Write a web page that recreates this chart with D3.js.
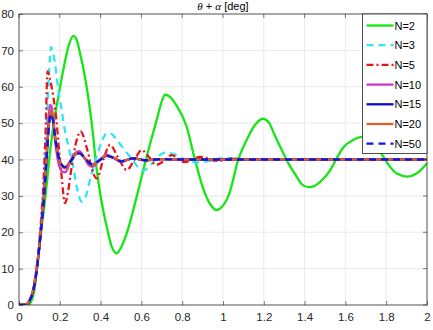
<!DOCTYPE html>
<html>
<head>
<meta charset="utf-8">
<script src="https://cdn.jsdelivr.net/npm/d3@7"></script>
<style>
  body { margin: 0; background: #fff; }
  svg { display: block; font-family: "Liberation Sans", Arial, sans-serif; }
  .grid line { stroke: #dcdcdc; stroke-width: 0.6; }
  .tick text { font-size: 11.5px; fill: #262626; }
</style>
</head>
<body>
<svg width="433" height="330"></svg>
<script>
// time [s] and angle [deg]
const seriesNames = ["N=2", "N=3", "N=5", "N=10", "N=15", "N=20", "N=50"];
const xTicks = [0, 0.2, 0.4, 0.6, 0.8, 1, 1.2, 1.4, 1.6, 1.8, 2];
const yTicks = [0, 10, 20, 30, 40, 50, 60, 70, 80];

const n2 = [[0,0],[0.045,0],[0.06,1],[0.075,4],[0.09,11],[0.108,20],[0.13,30],[0.152,42],[0.173,50.9],[0.193,57.3],
  [0.217,64.6],[0.242,71],[0.266,74],[0.28,73.3],[0.30,69],[0.324,62.5],[0.348,53.6],[0.364,46.3],[0.375,40],[0.397,31],
  [0.43,21.5],[0.455,16],[0.479,14.2],[0.5,15.8],[0.528,19.7],[0.577,29.8],[0.626,40.8],[0.675,50.9],[0.7,56],[0.716,57.8],
  [0.74,57.2],[0.77,55],[0.822,49],[0.86,40.5],[0.9,32.5],[0.94,27.5],[0.969,26.1],[0.995,27],[1.03,30.5],[1.075,40],
  [1.116,45.4],[1.157,49.5],[1.195,51.2],[1.227,50],[1.247,47.5],[1.288,42.6],[1.32,39],[1.361,35.3],[1.386,33.2],[1.418,32.4],
  [1.451,32.8],[1.475,33.8],[1.525,37],[1.554,40],[1.59,43.3],[1.64,45.4],[1.68,46.2],[1.71,46.1],[1.75,44],[1.778,41.5],
  [1.82,37.9],[1.85,36.2],[1.904,35.3],[1.95,36.2],[2.0,39]];
const n3 = [[0,0],[0.035,0],[0.05,1],[0.07,4],[0.09,11],[0.105,20],[0.12,32],[0.135,48],[0.145,61],[0.157,70.9],
  [0.176,66.6],[0.193,59],[0.209,53.6],[0.225,48],[0.245,43],[0.266,38],[0.283,32.5],[0.307,28.4],[0.325,29.5],[0.348,34.4],
  [0.381,40.8],[0.413,45.9],[0.43,47.2],[0.455,47],[0.479,45.4],[0.544,40.8],[0.609,36.9],[0.645,38.5],[0.675,40.4],[0.716,41.9],
  [0.76,41.5],[0.8,40.3],[0.88,39.2],[0.95,39.8],[1.0,40.4],[1.06,40.3],[1.12,39.9],[1.2,40],[1.4,40],[2,40]];
const n5 = [[0,0],[0.03,0],[0.05,1],[0.07,4.5],[0.09,12],[0.105,21],[0.12,34],[0.13,47],[0.14,64.2],[0.15,62.5],
  [0.168,57.3],[0.185,50],[0.193,44.5],[0.209,35.3],[0.225,28],[0.24,31],[0.258,38],[0.283,45.4],[0.302,47.7],[0.335,42.6],
  [0.364,36.2],[0.381,34.8],[0.413,39.9],[0.446,44],[0.487,40.4],[0.528,37.1],[0.565,39.8],[0.601,42.6],[0.635,40.8],[0.672,38.5],
  [0.71,39.6],[0.748,41.2],[0.81,39.3],[0.89,40.7],[0.97,39.6],[1.05,40.3],[1.13,39.9],[1.25,40.1],[1.4,40],[2,40]];
const n10 = [[0,0],[0.03,0],[0.05,1],[0.07,4],[0.09,11],[0.105,19],[0.12,29],[0.135,41],[0.145,51],[0.152,55],
  [0.16,54.5],[0.175,46],[0.19,40],[0.21,36.8],[0.228,36.5],[0.245,38.5],[0.27,41.5],[0.296,42.3],[0.32,40.5],[0.345,38.3],
  [0.36,38],[0.39,39.5],[0.43,41.3],[0.46,40.6],[0.5,39.4],[0.56,40.4],[0.62,39.8],[0.7,40.1],[0.8,40],[2,40]];
const n15 = [[0,0],[0.03,0],[0.05,1],[0.07,4],[0.09,11],[0.105,19],[0.12,28],[0.135,40],[0.145,48.5],[0.155,53],
  [0.165,51.5],[0.18,45],[0.2,39.5],[0.225,37.8],[0.25,39.3],[0.275,41.3],[0.296,41.8],[0.325,40.2],[0.356,38.6],[0.39,39.6],
  [0.43,41],[0.465,40.4],[0.5,39.5],[0.56,40.3],[0.62,39.8],[0.7,40.1],[0.8,40],[2,40]];
const n20 = [[0,0],[0.03,0],[0.05,1.2],[0.07,4.5],[0.09,11.5],[0.105,19.5],[0.12,28.5],[0.135,40.5],[0.145,49],[0.155,53.5],
  [0.165,52],[0.18,45.2],[0.2,39.3],[0.225,37.6],[0.25,39.2],[0.275,41.4],[0.296,41.9],[0.325,40.2],[0.356,38.5],[0.39,39.6],
  [0.43,41.1],[0.465,40.4],[0.5,39.5],[0.56,40.3],[0.62,39.8],[0.7,40.1],[0.8,40],[2,40]];
const n50 = [[0,0],[0.03,0],[0.05,1],[0.07,4],[0.09,11],[0.105,19],[0.12,28],[0.135,40],[0.145,48],[0.155,52.5],
  [0.165,51.2],[0.18,45],[0.2,39.6],[0.225,37.9],[0.25,39.3],[0.275,41.2],[0.296,41.7],[0.325,40.2],[0.356,38.7],[0.39,39.6],
  [0.43,41],[0.465,40.4],[0.5,39.5],[0.56,40.3],[0.62,39.8],[0.7,40.1],[0.8,40],[2,40]];

const seriesData = [n2, n3, n5, n10, n15, n20, n50];
const colors = ["#14e614", "#2ee6f2", "#e6161b", "#c83cc8", "#0a0ad2", "#d9622b", "#1414e0"];
const dashes = [null, "7,5", "7,3,2,3", null, null, null, "7,5"];

const svg = d3.select("svg");
const margin = { left: 19, right: 6, top: 14, bottom: 25 };
const W = 433, H = 330;

const x = d3.scaleLinear().domain([0, 2]).range([margin.left, W - margin.right]);
const y = d3.scaleLinear().domain([0, 80]).range([H - margin.bottom, margin.top]);

// grid
const grid = svg.append("g").attr("class", "grid");
grid.selectAll(".gx").data(xTicks.slice(1, -1)).enter().append("line")
  .attr("x1", d => x(d)).attr("x2", d => x(d)).attr("y1", y(0)).attr("y2", y(80));
grid.selectAll(".gy").data(yTicks.slice(1, -1)).enter().append("line")
  .attr("x1", x(0)).attr("x2", x(2)).attr("y1", d => y(d)).attr("y2", d => y(d));

// lines
const line = d3.line().x(d => x(d[0])).y(d => y(d[1])).curve(d3.curveMonotoneX);
svg.append("clipPath").attr("id", "clip").append("rect")
  .attr("x", x(0)).attr("y", y(80)).attr("width", x(2) - x(0)).attr("height", y(0) - y(80));
const plot = svg.append("g").attr("clip-path", "url(#clip)");
seriesData.forEach((s, i) => {
  plot.append("path").datum(s)
    .attr("d", line)
    .attr("fill", "none")
    .attr("stroke", colors[i])
    .attr("stroke-width", 2.3)
    .attr("stroke-linejoin", "round")
    .attr("stroke-dasharray", dashes[i]);
});

// axes
const xAxis = svg.append("g").attr("transform", `translate(0,${y(0)})`)
  .call(d3.axisBottom(x).tickValues(xTicks).tickFormat(d3.format("")).tickSizeInner(-4).tickSizeOuter(0).tickPadding(8));
const yAxis = svg.append("g").attr("transform", `translate(${x(0)},0)`)
  .call(d3.axisLeft(y).tickValues(yTicks).tickSizeInner(-4).tickSizeOuter(0).tickPadding(5));
[xAxis, yAxis].forEach(a => {
  a.select(".domain").remove();
  a.selectAll(".tick line").attr("stroke", "#262626").attr("stroke-width", 0.6);
});
// top / right ticks
svg.append("g").selectAll("line").data(xTicks).enter().append("line")
  .attr("x1", d => x(d)).attr("x2", d => x(d)).attr("y1", y(80)).attr("y2", y(80) + 4)
  .attr("stroke", "#262626").attr("stroke-width", 0.6);
svg.append("g").selectAll("line").data(yTicks).enter().append("line")
  .attr("x1", x(2)).attr("x2", x(2) - 4).attr("y1", d => y(d)).attr("y2", d => y(d))
  .attr("stroke", "#262626").attr("stroke-width", 0.6);

svg.append("rect")
  .attr("x", x(0)).attr("y", y(80)).attr("width", x(2) - x(0)).attr("height", y(0) - y(80))
  .attr("fill", "none").attr("stroke", "#262626").attr("stroke-width", 0.8);

// title
const title = svg.append("text").attr("x", (x(0) + x(2)) / 2).attr("y", 10)
  .attr("text-anchor", "middle").attr("font-size", 11).attr("fill", "#000");
title.append("tspan").attr("font-family", "'Liberation Serif', serif").attr("font-style", "italic").text("θ");
title.append("tspan").text(" + ");
title.append("tspan").attr("font-family", "'Liberation Serif', serif").attr("font-style", "italic").text("α");
title.append("tspan").text(" [deg]");

// legend
const lg = svg.append("g");
const lgX = 362.5, lgY = y(80), lgW = x(2) - 362.5, rowH = 19.7;
lg.append("rect").attr("x", lgX).attr("y", lgY).attr("width", lgW).attr("height", 139.5)
  .attr("fill", "#fff").attr("stroke", "#262626").attr("stroke-width", 0.8);
seriesNames.forEach((name, i) => {
  const cy = lgY + 11.5 + i * rowH;
  lg.append("line").attr("x1", lgX + 4).attr("x2", lgX + 31).attr("y1", cy).attr("y2", cy)
    .attr("stroke", colors[i]).attr("stroke-width", 2.3).attr("stroke-dasharray", dashes[i]);
  lg.append("text").attr("x", lgX + 32).attr("y", cy + 4).attr("font-size", 11).attr("fill", "#000").text(name);
});
</script>
</body>
</html>
